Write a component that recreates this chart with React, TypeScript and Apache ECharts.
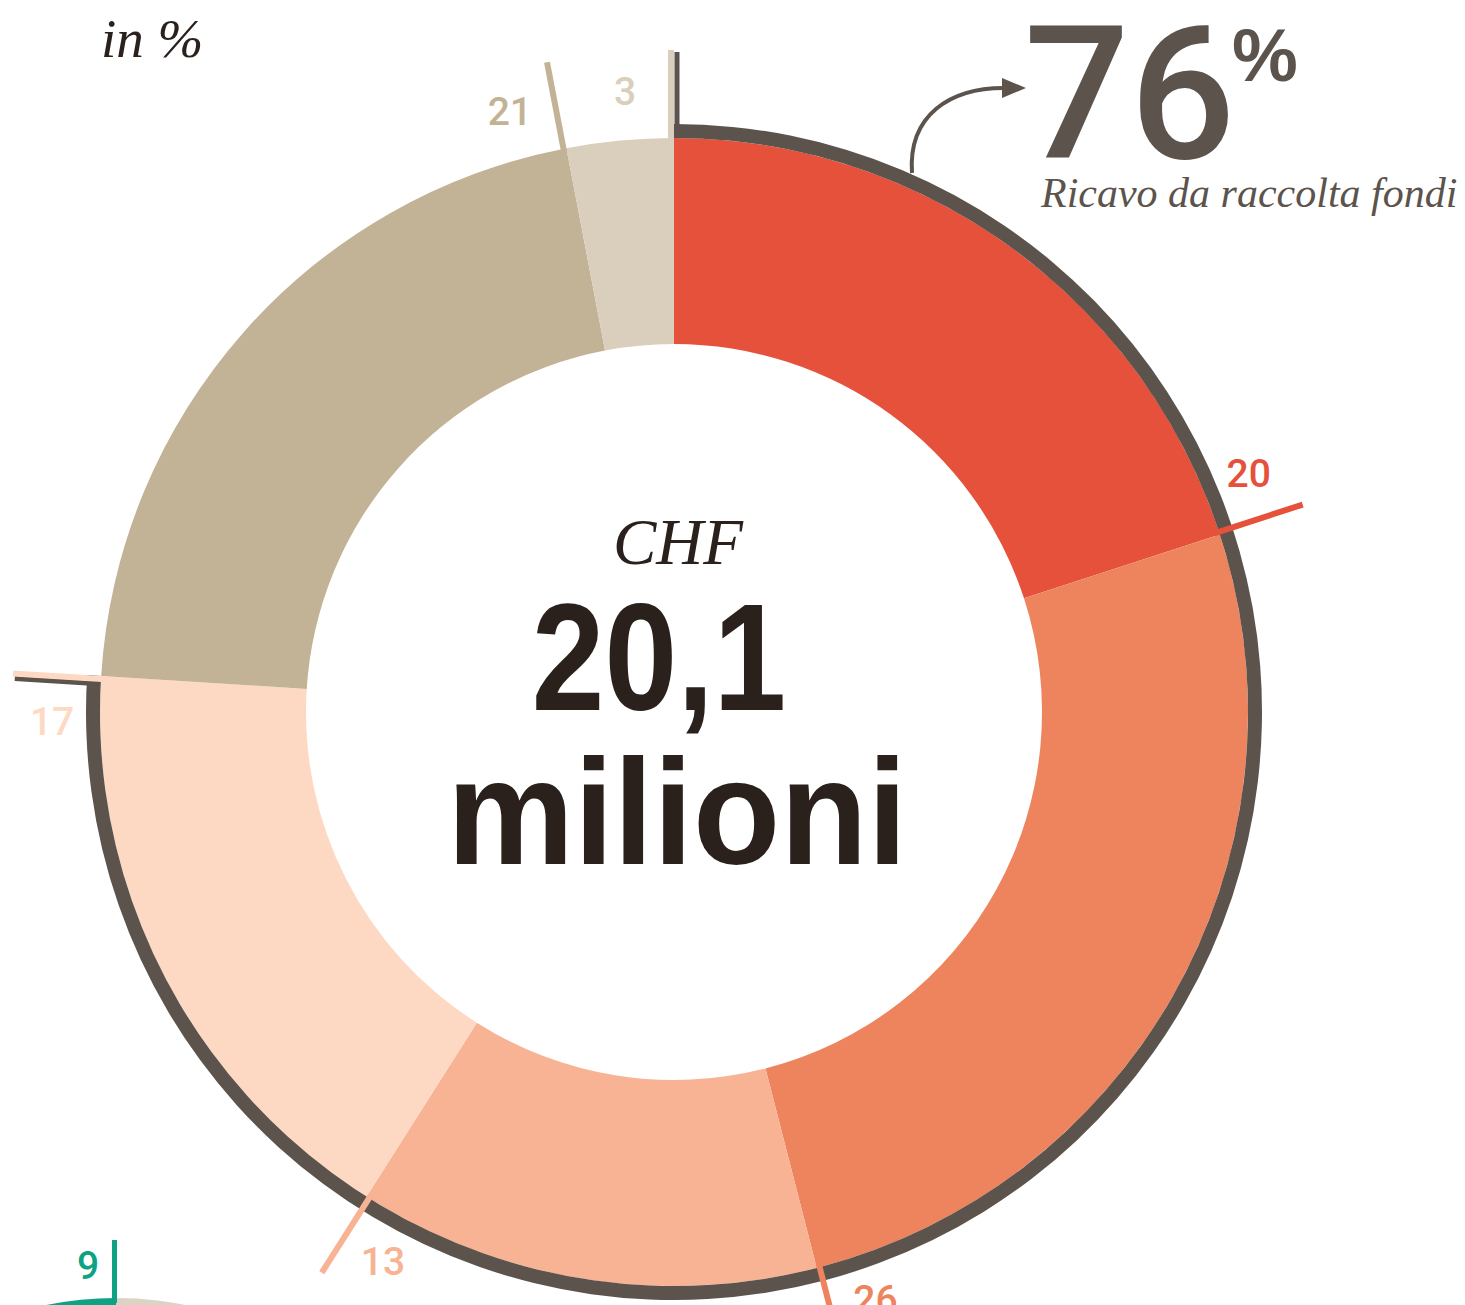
import React, { useEffect, useRef } from 'react';
import * as echarts from 'echarts';

// ---- data ----
const sliceValues = [20, 26, 13, 17, 21, 3];
const sliceLabels = ['20', '26', '13', '17', '21', '3'];
const fundraisingSlices = 4; // first four slices = revenue from fundraising
const currency = 'CHF';
const totalAmount = '20,1';
const totalUnit = 'milioni';
const unitNote = 'in %';
const fundraisingCaption = 'Ricavo da raccolta fondi';

// next (cut-off) donut at the bottom left
const nextValues = [91, 9];
const nextLabels = ['', '9'];

// ---- styles ----
const sliceColors = ['#E5513A', '#EE845E', '#F7B393', '#FDD9C4', '#C3B396', '#DACFBD'];
const nextColors = ['#DCD3C4', '#0DA283'];
const DARK = '#5B534C';
const INK = '#2A211C';

const cumEnds: number[] = [];
sliceValues.forEach((v, i) => cumEnds.push((i ? cumEnds[i - 1] : 0) + v));
const nextCumEnds: number[] = [];
nextValues.forEach((v, i) => nextCumEnds.push((i ? nextCumEnds[i - 1] : 0) + v));
const fundraisingShare = sliceValues.slice(0, fundraisingSlices).reduce((a, b) => a + b, 0);

function leaderRender(o: {
  r0: number; r1: number; labelR: number; labelShift: number; offset: number;
  width: number; labels: string[]; colors: string[]; fontSize: number;
}) {
  return (_params: any, api: any) => {
    const angle = api.value(1);
    const idx = api.value(2);
    const a = api.coord([o.r0, angle]);
    const b = api.coord([o.r1, angle]);
    const dx = b[0] - a[0], dy = b[1] - a[1];
    const len = Math.hypot(dx, dy) || 1;
    const ux = dx / len, uy = dy / len;
    const tx = -uy, ty = ux; // clockwise tangent
    const lp = api.coord([o.labelR, angle - o.labelShift]);
    const children: any[] = [
      {
        type: 'line',
        shape: { x1: a[0] + tx * o.offset, y1: a[1] + ty * o.offset, x2: b[0] + tx * o.offset, y2: b[1] + ty * o.offset },
        style: { stroke: o.colors[idx], lineWidth: o.width, lineCap: 'butt' },
      },
    ];
    if (o.labels[idx]) {
      children.push({
        type: 'text',
        style: {
          text: o.labels[idx], x: lp[0], y: lp[1], fill: o.colors[idx],
          font: `500 ${o.fontSize}px Roboto`, align: 'center', verticalAlign: 'middle',
        },
      });
    }
    return { type: 'group', children };
  };
}

function tickRender(_params: any, api: any) {
  const angle = api.value(1);
  const idx = api.value(2);
  const off = idx === 0 ? 3 : -8; // into the highlighted arc
  const a = api.coord([584, angle]);
  const b = api.coord([660, angle]);
  const dx = b[0] - a[0], dy = b[1] - a[1];
  const len = Math.hypot(dx, dy) || 1;
  const tx = -dy / len, ty = dx / len;
  return {
    type: 'line',
    shape: { x1: a[0] + tx * off, y1: a[1] + ty * off, x2: b[0] + tx * off, y2: b[1] + ty * off },
    style: { stroke: DARK, lineWidth: 5, lineCap: 'butt' },
  };
}

const hiddenAxis = {
  show: false, axisLine: { show: false }, axisTick: { show: false },
  axisLabel: { show: false }, splitLine: { show: false },
};

export default function App() {
  const ref = useRef<HTMLDivElement>(null);
  useEffect(() => {
    if (!ref.current) return;
    const chart = echarts.init(ref.current, null, { renderer: 'svg' });
    chart.setOption({
      animation: false,
      backgroundColor: '#ffffff',
      polar: [
        { center: [674, 712], radius: 700 },
        { center: [116, 1648], radius: 700 },
      ],
      angleAxis: [
        { polarIndex: 0, type: 'value', min: 0, max: 100, startAngle: 90, clockwise: true, ...hiddenAxis },
        { polarIndex: 1, type: 'value', min: 0, max: 100, startAngle: 90, clockwise: true, ...hiddenAxis },
      ],
      radiusAxis: [
        { polarIndex: 0, type: 'value', min: 0, max: 700, ...hiddenAxis },
        { polarIndex: 1, type: 'value', min: 0, max: 700, ...hiddenAxis },
      ],
      series: [
        {
          type: 'pie', z: 2, silent: true,
          center: [674, 712], radius: [368, 574], startAngle: 90, clockwise: true,
          label: { show: false }, labelLine: { show: false }, emphasis: { disabled: true },
          itemStyle: { borderWidth: 0 },
          data: sliceValues.map((v, i) => ({ value: v, name: sliceLabels[i], itemStyle: { color: sliceColors[i] } })),
        },
        {
          type: 'pie', z: 3, silent: true,
          center: [674, 712], radius: [574, 588], startAngle: 90, clockwise: true,
          label: { show: false }, labelLine: { show: false }, emphasis: { disabled: true },
          itemStyle: { borderWidth: 0 },
          data: [
            { value: fundraisingShare, name: 'raccolta fondi', itemStyle: { color: DARK } },
            { value: 100 - fundraisingShare, name: 'altro', itemStyle: { color: 'rgba(0,0,0,0)' } },
          ],
        },
        {
          type: 'pie', z: 2, silent: true,
          center: [116, 1648], radius: [200, 350], startAngle: 90, clockwise: true,
          label: { show: false }, labelLine: { show: false }, emphasis: { disabled: true },
          itemStyle: { borderWidth: 0 },
          data: nextValues.map((v, i) => ({ value: v, name: 'n' + i, itemStyle: { color: nextColors[i] } })),
        },
        {
          type: 'custom', coordinateSystem: 'polar', polarIndex: 0, z: 4, silent: true, clip: false,
          renderItem: tickRender,
          data: [[660, 0, 0], [660, fundraisingShare, 1]],
        },
        {
          type: 'custom', coordinateSystem: 'polar', polarIndex: 0, z: 5, silent: true, clip: false,
          renderItem: leaderRender({
            r0: 569, r1: 662, labelR: 622, labelShift: 1.25, offset: -3, width: 6,
            labels: sliceLabels, colors: sliceColors, fontSize: 39,
          }),
          data: cumEnds.map((c, i) => [662, c, i]),
        },
        {
          type: 'custom', coordinateSystem: 'polar', polarIndex: 1, z: 5, silent: true, clip: false,
          renderItem: leaderRender({
            r0: 345, r1: 408, labelR: 383, labelShift: 1.16, offset: -1.5, width: 5,
            labels: nextLabels, colors: nextColors, fontSize: 39,
          }),
          data: [[408, nextCumEnds[1], 1]],
        },
      ],
      graphic: [
        {
          type: 'bezierCurve', silent: true, z: 10,
          shape: { x1: 912, y1: 173, cpx1: 908, cpy1: 115, cpx2: 950, cpy2: 88, x2: 1004, y2: 88 },
          style: { stroke: DARK, lineWidth: 4, fill: 'none' },
        },
        {
          type: 'polygon', silent: true, z: 10,
          shape: { points: [[1002, 78], [1026, 88], [1002, 98]] },
          style: { fill: DARK },
        },
        {
          type: 'text', x: 101, y: 38, z: 10,
          style: { text: unitNote, font: 'italic 55px "Liberation Serif"', fill: INK, align: 'left', verticalAlign: 'middle' },
        },
        {
          type: 'text', x: 678, y: 542, z: 10,
          style: { text: currency, font: 'italic 65px "Liberation Serif"', fill: INK, align: 'center', verticalAlign: 'middle' },
        },
        {
          type: 'text', x: 659, y: 657, scaleX: 0.86, z: 10,
          style: { text: totalAmount, font: 'bold 152px "Liberation Sans"', fill: INK, align: 'center', verticalAlign: 'middle' },
        },
        {
          type: 'text', x: 677, y: 812, scaleX: 0.946, z: 10,
          style: { text: totalUnit, font: 'bold 151px "Liberation Sans"', fill: INK, align: 'center', verticalAlign: 'middle' },
        },
        {
          type: 'text', x: 1024, y: 94, z: 10,
          style: { text: String(fundraisingShare), font: '500 186px Roboto', lineHeight: 134, fill: DARK, align: 'left', verticalAlign: 'middle' },
        },
        {
          type: 'text', x: 1232, y: 55, z: 10,
          style: { text: '%', font: 'bold 74px "Liberation Sans"', lineHeight: 56, fill: DARK, align: 'left', verticalAlign: 'middle' },
        },
        {
          type: 'text', x: 1041, y: 193, z: 10,
          style: { text: fundraisingCaption, font: 'italic 42px "Liberation Serif"', lineHeight: 40, fill: DARK, align: 'left', verticalAlign: 'middle' },
        },
      ],
    });
    return () => chart.dispose();
  }, []);
  return <div ref={ref} style={{ position: 'absolute', left: 0, top: 0, width: 1465, height: 1305 }} />;
}
